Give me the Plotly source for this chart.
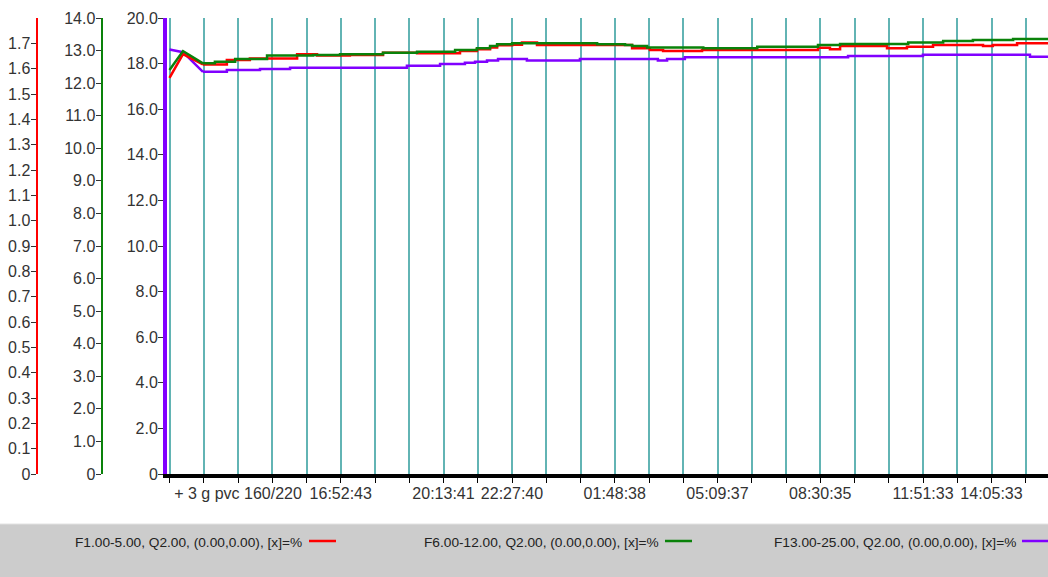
import plotly.graph_objects as go

W, H = 1048, 577

# ---- time base -------------------------------------------------------------
RUN_START = "11:17:46"      # clock time at the first gridline
GRID_STEP_S = 4019.4        # seconds between gridlines
N_GRID = 26

# ---- measured fractions, elapsed hours since run start ---------------------
f1_t = [0.00, 0.44, 1.09, 1.87, 2.62, 4.16, 4.81, 5.88, 6.96, 8.07, 9.47,
        10.02, 10.45, 10.68, 11.17, 11.49, 11.98, 15.08, 15.66, 16.09, 17.36,
        21.14, 21.53, 21.86, 23.39, 24.04, 24.89, 26.52, 26.84, 27.63, 28.80]
f1_v = [17.37, 18.42, 17.96, 18.16, 18.22, 18.41, 18.35, 18.38, 18.48, 18.45, 18.55,
        18.63, 18.71, 18.80, 18.83, 18.92, 18.82, 18.67, 18.60, 18.55, 18.60,
        18.70, 18.63, 18.77, 18.67, 18.74, 18.82, 18.77, 18.82, 18.89, 18.89]

f6_t = [0.00, 0.44, 1.09, 1.48, 2.14, 3.18, 4.68, 5.56, 6.96, 8.07, 9.31,
        10.02, 10.45, 10.68, 11.17, 13.94, 14.85, 15.08, 15.57, 17.40, 19.16,
        21.14, 21.86, 24.08, 25.22, 26.19, 27.50, 28.80]
f6_v = [17.72, 18.55, 18.01, 18.08, 18.20, 18.35, 18.38, 18.41, 18.48, 18.52, 18.60,
        18.67, 18.77, 18.85, 18.89, 18.85, 18.82, 18.77, 18.71, 18.67, 18.74,
        18.82, 18.86, 18.92, 18.99, 19.04, 19.08, 19.08]

f13_t = [0.00, 0.44, 1.09, 1.87, 2.95, 3.93, 7.74, 8.82, 9.63, 9.96, 10.35,
         10.71, 11.65, 13.38, 15.92, 16.22, 16.80, 22.12, 24.56, 28.05, 28.80]
f13_v = [18.62, 18.50, 17.64, 17.72, 17.76, 17.82, 17.91, 17.98, 18.04, 18.08, 18.14,
         18.20, 18.14, 18.20, 18.14, 18.20, 18.28, 18.33, 18.39, 18.30, 18.30]

series_names = ["F1.00-5.00, Q2.00, (0.00,0.00), [x]=%",
                "F6.00-12.00, Q2.00, (0.00,0.00), [x]=%",
                "F13.00-25.00, Q2.00, (0.00,0.00), [x]=%"]

# time-axis labels in chronological order (clock time, text)
time_labels = [("13:31:45", "+ 3 g pvc 160/220"),
               ("16:52:43", "16:52:43"),
               ("20:13:41", "20:13:41"),
               ("22:27:40", "22:27:40"),
               ("01:48:38", "01:48:38"),
               ("05:09:37", "05:09:37"),
               ("08:30:35", "08:30:35"),
               ("11:51:33", "11:51:33"),
               ("14:05:33", "14:05:33")]

# y-axis scales
main_ticks = [0, 2, 4, 6, 8, 10, 12, 14, 16, 18, 20]
green_ticks = list(range(0, 15))
red_ticks = [i / 10 for i in range(0, 18)]

RED = "#ff0000"
GREEN = "#0a820a"
PURPLE = "#8000ff"
GRID = "#62b4b4"
TEXT = "#333333"
FONT = "Liberation Sans, Arial, sans-serif"


def clock_to_s(c):
    h, m, s = (int(p) for p in c.split(":"))
    return h * 3600 + m * 60 + s


step_h = GRID_STEP_S / 3600.0
grid_vals = [k * step_h for k in range(N_GRID)]
grid_text = [""] * N_GRID

# walk the labels in order, rolling over midnight when the clock wraps
start_s = clock_to_s(RUN_START)
prev_s, day = start_s, 0
for clock, txt in time_labels:
    s = clock_to_s(clock)
    if s < prev_s:
        day += 1
    prev_s = s
    hours = (s + day * 86400 - start_s) / 3600.0
    grid_text[round(hours / step_h)] = txt

# ---- layout geometry (pixels) --------------------------------------------
PLOT_L, PLOT_T, PLOT_B = 167.0, 18.0, 474.0
GRID0_PX, GRID_STEP_PX = 169.5, 34.25
px_per_h = GRID_STEP_PX / step_h
x_range = [-(GRID0_PX - PLOT_L) / px_per_h, (W - GRID0_PX) / px_per_h]


def px(x):
    return x / W


def py(y):
    return 1 - y / H


fig = go.Figure()


def add_series(t, v, color):
    # initial ramp drawn straight, then the logger's stepped record
    fig.add_trace(go.Scatter(x=t[:3], y=v[:3], mode="lines",
                             line=dict(color=color, width=2.5),
                             hoverinfo="skip", showlegend=False))
    fig.add_trace(go.Scatter(x=t[2:], y=v[2:], mode="lines",
                             line=dict(color=color, width=2.5, shape="hv"),
                             hoverinfo="skip", showlegend=False))


add_series(f13_t, f13_v, PURPLE)
add_series(f1_t, f1_v, RED)
add_series(f6_t, f6_v, GREEN)

# placeholders so the extra scales are rendered
fig.add_trace(go.Scatter(x=[None], y=[None], yaxis="y2", showlegend=False, hoverinfo="skip"))
fig.add_trace(go.Scatter(x=[None], y=[None], yaxis="y3", showlegend=False, hoverinfo="skip"))

tickfont = dict(family=FONT, size=16, color=TEXT)

fig.update_layout(
    width=W, height=H, autosize=False,
    margin=dict(l=0, r=0, t=0, b=0, pad=0),
    paper_bgcolor="white", plot_bgcolor="white",
    showlegend=False,
    xaxis=dict(domain=[px(PLOT_L), 1], range=x_range,
               tickmode="array", tickvals=grid_vals, ticktext=grid_text,
               tickangle=0, automargin=False, ticklabelstandoff=-3,
               showgrid=True, gridcolor=GRID, gridwidth=2,
               showline=True, linecolor="black", linewidth=3.5,
               ticks="outside", ticklen=5, tickcolor="black", tickwidth=1,
               tickfont=tickfont, zeroline=False, fixedrange=True),
    yaxis=dict(domain=[py(PLOT_B), py(PLOT_T)], range=[0, 20],
               tickmode="array", tickvals=main_ticks,
               ticktext=["0"] + [f"{v:.1f}" for v in main_ticks[1:]],
               showgrid=False, zeroline=False, automargin=False,
               ticklabelstandoff=-3,
               showline=True, linecolor=PURPLE, linewidth=4,
               ticks="outside", ticklen=5, tickcolor=TEXT, tickwidth=1,
               tickfont=tickfont),
    yaxis2=dict(overlaying="y", anchor="free", position=px(101.5), side="left",
                range=[0, 14], tickmode="array", tickvals=green_ticks,
                ticktext=["0"] + [f"{v:.1f}" for v in green_ticks[1:]],
                showgrid=False, zeroline=False, automargin=False,
                ticklabelstandoff=-3,
                showline=True, linecolor=GREEN, linewidth=2,
                ticks="outside", ticklen=5, tickcolor=TEXT, tickwidth=1,
                tickfont=tickfont),
    yaxis3=dict(overlaying="y", anchor="free", position=px(36.5), side="left",
                range=[0, 1.8], tickmode="array", tickvals=red_ticks,
                ticktext=["0"] + [f"{v:.1f}" for v in red_ticks[1:]],
                showgrid=False, zeroline=False, automargin=False,
                ticklabelstandoff=-3,
                showline=True, linecolor=RED, linewidth=2,
                ticks="outside", ticklen=5, tickcolor=TEXT, tickwidth=1,
                tickfont=tickfont),
)

# legend strip
fig.add_shape(type="rect", xref="paper", yref="paper",
              x0=0, x1=1, y0=0, y1=py(524), fillcolor="#cccccc",
              line=dict(width=0), layer="below")
fig.add_shape(type="line", xref="paper", yref="paper",
              x0=0, x1=1, y0=py(524), y1=py(524),
              line=dict(color="#e2e2e2", width=1))

legend_items = [(73, 309, RED), (422, 665, GREEN), (772, 1022, PURPLE)]
for name, (tx, lx, color) in zip(series_names, legend_items):
    fig.add_annotation(xref="paper", yref="paper", x=px(tx), y=py(542),
                       xanchor="left", yanchor="middle", showarrow=False,
                       text=name, font=dict(family=FONT, size=13.7, color="#222222"))
    fig.add_shape(type="line", xref="paper", yref="paper",
                  x0=px(lx), x1=px(lx + 27), y0=py(541), y1=py(541),
                  line=dict(color=color, width=2.5))

fig.write_html("out.html", config={"displayModeBar": False})
